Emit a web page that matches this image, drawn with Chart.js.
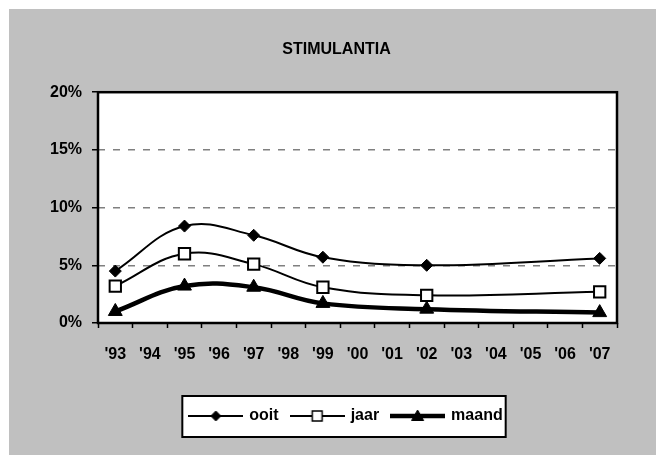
<!DOCTYPE html>
<html>
<head>
<meta charset="utf-8">
<script src="https://cdn.jsdelivr.net/npm/chart.js@4.4.0/dist/chart.umd.min.js"></script>
<style>
  html, body { margin: 0; padding: 0; background: #fff; }
</style>
</head>
<body>
<canvas id="chart" width="656" height="455"></canvas>
<script>
// values (percent); null = no survey that year
const years = ["'93", "'94", "'95", "'96", "'97", "'98", "'99", "'00", "'01", "'02", "'03", "'04", "'05", "'06", "'07"];
const ooit  = [4.5, null, 8.4, null, 7.6, null, 5.7, null, null, 5.0, null, null, null, null, 5.6];
const jaar  = [3.2, null, 6.0, null, 5.1, null, 3.1, null, null, 2.4, null, null, null, null, 2.7];
const maand = [1.0, null, 3.2, null, 3.1, null, 1.7, null, null, 1.2, null, null, null, null, 0.9];
const yTicks = [0, 5, 10, 15, 20];

const FONT = "'Liberation Sans', Arial, sans-serif";
const GRAY = '#c0c0c0';

// little line+marker swatch for the legend
function swatch(style, radius, lineW, fill) {
    const c = document.createElement('canvas');
    c.width = 55; c.height = 16;
    const g = c.getContext('2d');
    g.strokeStyle = '#000';
    g.lineWidth = lineW;
    g.beginPath(); g.moveTo(0, 8); g.lineTo(55, 8); g.stroke();
    g.fillStyle = fill;
    g.lineWidth = style === 'rect' ? 1.5 : 1;
    Chart.helpers.drawPoint(g, { pointStyle: style, radius: radius, borderWidth: g.lineWidth }, 27.5, style === 'triangle' ? 9 : 8);
    return c;
}

const frame = {
    id: 'frame',
    afterLayout(chart) {
        // title and legend are centred on the whole gray panel, not the plot
        chart.titleBlock.left += 28; chart.titleBlock.right += 28;
        chart.legend.left += 38; chart.legend.right += 38;
    },
    beforeDraw(chart) {
        const { ctx, chartArea: a } = chart;
        ctx.save();
        ctx.fillStyle = '#fff';
        ctx.fillRect(0, 0, chart.width, chart.height);
        ctx.fillStyle = GRAY;
        ctx.fillRect(9, 9, chart.width - 9, chart.height - 9);
        ctx.fillStyle = '#fff';
        ctx.fillRect(a.left, a.top, a.right - a.left, a.bottom - a.top);
        const hb = chart.legend.legendHitBoxes;
        if (hb && hb.length) {
            const last = hb[hb.length - 1];
            const cy = hb[0].top + hb[0].height / 2;
            const x0 = hb[0].left - 8, x1 = last.left + last.width + 3;
            ctx.fillRect(x0, cy - 20, x1 - x0, 41);
            ctx.strokeStyle = '#000';
            ctx.lineWidth = 2;
            ctx.strokeRect(x0, cy - 20, x1 - x0, 41);
        }
        ctx.restore();
    },
    beforeDatasetsDraw(chart) {
        const { ctx, chartArea: a } = chart;
        ctx.save();
        ctx.strokeStyle = '#000';
        ctx.lineWidth = 2.5;
        ctx.strokeRect(a.left, a.top, a.right - a.left, a.bottom - a.top);
        ctx.restore();
    }
};

const swatches = [
    swatch('rectRot', 5, 2, '#000'),
    swatch('rect', 7, 2, '#fff'),
    swatch('triangle', 7, 4.5, '#000')
];

new Chart(document.getElementById('chart'), {
    type: 'line',
    data: {
        labels: years,
        datasets: [
            { label: 'ooit', data: ooit, borderColor: '#000', borderWidth: 2,
              pointStyle: 'rectRot', pointRadius: 6, pointBackgroundColor: '#000',
              pointBorderColor: '#000', pointBorderWidth: 1, spanGaps: true, tension: 0.4 },
            { label: 'jaar', data: jaar, borderColor: '#000', borderWidth: 2,
              pointStyle: 'rect', pointRadius: 8, pointBackgroundColor: '#fff',
              pointBorderColor: '#000', pointBorderWidth: 2, spanGaps: true, tension: 0.4 },
            { label: 'maand', data: maand, borderColor: '#000', borderWidth: 4.5,
              pointStyle: 'triangle', pointRadius: 8, pointBackgroundColor: '#000',
              pointBorderColor: '#000', pointBorderWidth: 1, spanGaps: true, tension: 0.4 },
        ],
    },
    options: {
        responsive: false,
        animation: false,
        events: [],
        layout: { padding: { top: 0, left: 0, right: 39, bottom: 21 } },
        plugins: {
            title: {
                display: true, text: 'STIMULANTIA', color: '#000',
                font: { family: FONT, size: 16, weight: 'bold' },
                padding: { top: 40, bottom: 33 },
            },
            legend: {
                position: 'bottom',
                labels: {
                    usePointStyle: true, pointStyleWidth: 51, padding: 13, color: '#000',
                    font: { family: FONT, size: 16, weight: 'bold' },
                    generateLabels: chart => chart.data.datasets.map((ds, i) => ({
                        text: ds.label, datasetIndex: i, pointStyle: swatches[i],
                        fillStyle: 'transparent', strokeStyle: 'transparent', lineWidth: 0, hidden: false,
                    })),
                },
            },
            tooltip: { enabled: false },
        },
        scales: {
            x: {
                offset: true,
                afterFit: s => { s.height = 72; },
                grid: { offset: true, drawOnChartArea: false, tickLength: 5, tickColor: '#000', tickWidth: 1.5 },
                border: { display: false },
                ticks: { color: '#000', padding: 17, maxRotation: 0, autoSkip: false,
                         font: { family: FONT, size: 16, weight: 'bold' } },
            },
            y: {
                min: 0, max: 20,
                afterFit: s => { s.width = 98; },
                afterBuildTicks: s => { s.ticks = yTicks.map(v => ({ value: v })); },
                grid: {
                    color: c => (c.tick && (c.tick.value === 0 || c.tick.value === 20)) ? 'rgba(0,0,0,0)' : '#808080',
                    lineWidth: 1.5, tickLength: 6, tickColor: '#000', tickWidth: 1.5,
                },
                border: { display: false, dash: [7, 8] },
                ticks: { color: '#000', padding: 10, callback: v => v + '%',
                         font: { family: FONT, size: 16, weight: 'bold' } },
            },
        },
    },
    plugins: [frame],
});
</script>
</body>
</html>
